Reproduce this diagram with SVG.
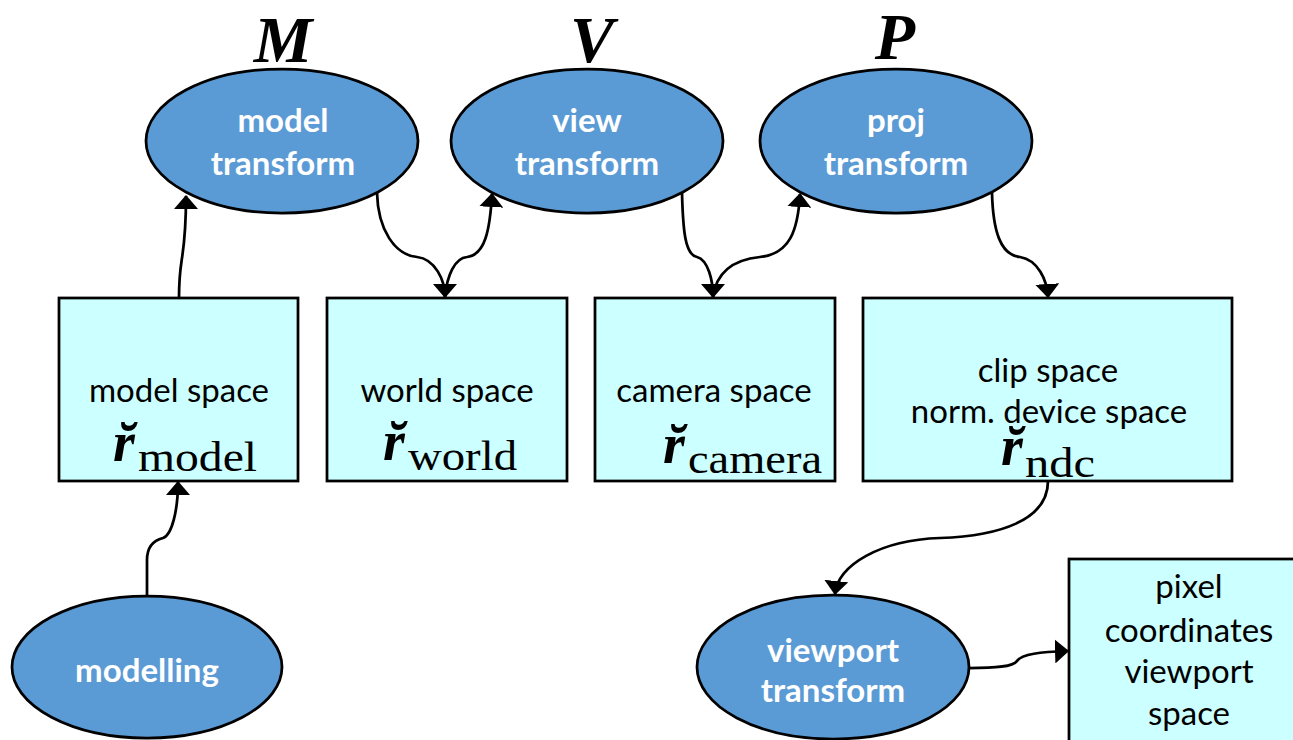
<svg xmlns="http://www.w3.org/2000/svg" width="1293" height="740" viewBox="0 0 1293 740">
<style>
.ell{fill:#5B9BD5;stroke:#000;stroke-width:2.75}
.box{fill:#CCFFFF;stroke:#000;stroke-width:2.75}
.et{font-family:Lato,"Open Sans",sans-serif;font-weight:bold;font-size:33px;fill:#fff;text-anchor:middle}
.bt{font-family:Lato,"Open Sans",sans-serif;font-size:33px;fill:#000;text-anchor:middle}
.mat{font-family:"Liberation Serif",serif;font-weight:bold;font-style:italic;font-size:66px;fill:#000;text-anchor:middle}
.r{font-family:"Liberation Serif",serif;font-weight:bold;font-style:italic;font-size:56px;fill:#000}
.sub{font-family:"Liberation Serif",serif;font-size:42px;fill:#000}
.con{fill:none;stroke:#000;stroke-width:2.75}
</style>
<defs>
<marker id="ah" markerUnits="userSpaceOnUse" viewBox="0 0 14 24" markerWidth="14" markerHeight="24" refX="13" refY="12" orient="auto">
<path d="M0,0 L14,12 L0,24 z" fill="#000"/>
</marker>
</defs>
<g id="labels">
<text class="mat" x="283" y="62">M</text>
<text class="mat" x="592" y="62">V</text>
<text class="mat" x="895" y="59">P</text>
</g>
<g id="model-transform">
<ellipse class="ell" cx="282" cy="141" rx="136" ry="72"/>
<text class="et" x="283" y="132">model</text>
<text class="et" x="283" y="175">transform</text>
</g>
<g id="view-transform">
<ellipse class="ell" cx="587" cy="141" rx="136" ry="72"/>
<text class="et" x="587" y="132">view</text>
<text class="et" x="587" y="175">transform</text>
</g>
<g id="proj-transform">
<ellipse class="ell" cx="896" cy="141" rx="136" ry="72"/>
<text class="et" x="896" y="132">proj</text>
<text class="et" x="896" y="175">transform</text>
</g>
<g id="model-space">
<rect class="box" x="59" y="298" width="239" height="183"/>
<text class="bt" x="179" y="402">model space</text>
<text class="r" x="113" y="461">r̆</text>
<text class="sub" x="138" y="471" textLength="119" lengthAdjust="spacingAndGlyphs">model</text>
</g>
<g id="world-space">
<rect class="box" x="327" y="298" width="240" height="183"/>
<text class="bt" x="447" y="402">world space</text>
<text class="r" x="383" y="460">r̆</text>
<text class="sub" x="408" y="470" textLength="109" lengthAdjust="spacingAndGlyphs">world</text>
</g>
<g id="camera-space">
<rect class="box" x="595" y="298" width="240" height="183"/>
<text class="bt" x="714" y="402">camera space</text>
<text class="r" x="663" y="463">r̆</text>
<text class="sub" x="688" y="473" textLength="134" lengthAdjust="spacingAndGlyphs">camera</text>
</g>
<g id="clip-space">
<rect class="box" x="863" y="298" width="369" height="183"/>
<text class="bt" x="1048" y="382">clip space</text>
<text class="bt" x="1049" y="423">norm. device space</text>
<text class="r" x="1001" y="465">r̆</text>
<text class="sub" x="1025" y="477" textLength="70" lengthAdjust="spacingAndGlyphs">ndc</text>
</g>
<g id="modelling">
<ellipse class="ell" cx="147" cy="667" rx="135" ry="71"/>
<text class="et" x="147" y="682">modelling</text>
</g>
<g id="viewport-transform">
<ellipse class="ell" cx="833" cy="667" rx="136" ry="72"/>
<text class="et" x="833" y="662">viewport</text>
<text class="et" x="833" y="702">transform</text>
</g>
<g id="pixel-space">
<rect class="box" x="1069" y="559" width="240" height="183"/>
<text class="bt" x="1189" y="598">pixel</text>
<text class="bt" x="1189" y="642">coordinates</text>
<text class="bt" x="1189" y="683">viewport</text>
<text class="bt" x="1189" y="725">space</text>
</g>
<g id="connectors">
<path class="con" marker-end="url(#ah)" d="M179,298 C179,275 181,265 182,258 C184,245 186,230 186,196"/>
<path class="con" marker-end="url(#ah)" d="M377,193 C378,230 395,255 417,257 C435,259 445,280 445,297"/>
<path class="con" marker-end="url(#ah)" d="M445,297 C447,275 455,258 467,257 C485,255 490,230 492,194"/>
<path class="con" marker-end="url(#ah)" d="M682,193 C683,230 685,255 697,257 C708,260 713,280 713,297"/>
<path class="con" marker-end="url(#ah)" d="M713,297 C716,275 730,260 760,257 C790,254 798,230 800,194"/>
<path class="con" marker-end="url(#ah)" d="M992,193 C993,230 1000,255 1020,257 C1038,260 1047,280 1048,297"/>
<path class="con" marker-end="url(#ah)" d="M1048,481 C1048,520 1000,536 940,538 C880,540 838,565 835,594"/>
<path class="con" marker-end="url(#ah)" d="M969,668 C995,668 1013,667 1017,661 C1022,654 1040,652 1068,651"/>
<path class="con" marker-end="url(#ah)" d="M147,596 L147,560 C147,545 155,540 163,538 C172,535 178,510 178,482"/>
</g>
</svg>
